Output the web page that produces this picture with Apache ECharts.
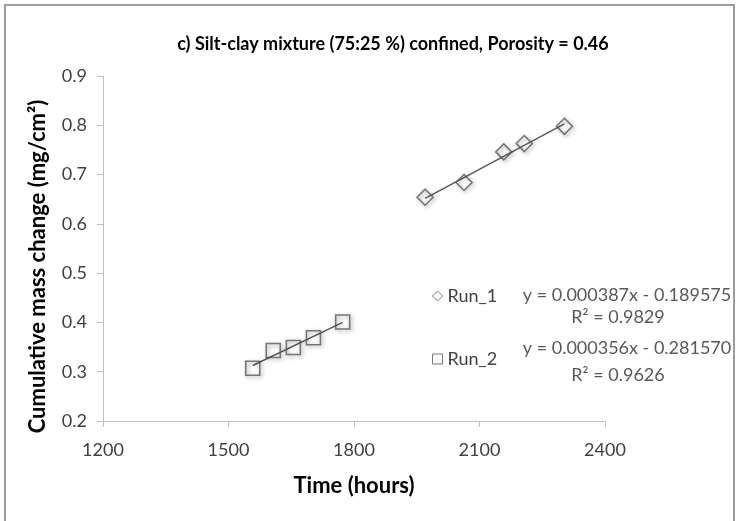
<!DOCTYPE html>
<html>
<head>
<meta charset="utf-8">
<script src="https://cdn.jsdelivr.net/npm/echarts@6/dist/echarts.min.js"></script>
<style>
  html, body { margin: 0; padding: 0; background: #ffffff; }
  #chart { width: 738px; height: 521px; }
</style>
</head>
<body>
<div id="chart"></div>
<script>
// Time (hours) and cumulative mass change (mg/cm²) for each run
const run1Time = [1970, 2063, 2158, 2207, 2303];
const run1Mass = [0.654, 0.684, 0.746, 0.763, 0.798];
const run2Time = [1558, 1607, 1655, 1703, 1773];
const run2Mass = [0.307, 0.343, 0.349, 0.369, 0.401];

const xTicks = [1200, 1500, 1800, 2100, 2400];
const yTicks = [0.2, 0.3, 0.4, 0.5, 0.6, 0.7, 0.8, 0.9];

const run1Equation = 'y = 0.000387x - 0.189575';
const run1R2 = 'R² = 0.9829';
const run2Equation = 'y = 0.000356x - 0.281570';
const run2R2 = 'R² = 0.9626';

const FONT = "Lato, 'Liberation Sans', sans-serif";

// Least-squares line through a run's points, spanning its first to last time
function trend(xs, ys) {
  const n = xs.length;
  const mx = xs.reduce((a, b) => a + b, 0) / n;
  const my = ys.reduce((a, b) => a + b, 0) / n;
  let sxy = 0, sxx = 0;
  for (let i = 0; i < n; i++) {
    sxy += (xs[i] - mx) * (ys[i] - my);
    sxx += (xs[i] - mx) * (xs[i] - mx);
  }
  const m = sxy / sxx;
  const b = my - m * mx;
  const x0 = Math.min(...xs), x1 = Math.max(...xs);
  return [[x0, m * x0 + b], [x1, m * x1 + b]];
}

const pts = (xs, ys) => xs.map((x, i) => [x, ys[i]]);

const markerStyle = {
  color: 'rgba(255,255,255,0)',
  borderColor: '#595959',
  borderWidth: 1.6,
  shadowColor: 'rgba(0,0,0,0.45)',
  shadowBlur: 4,
  shadowOffsetX: 1.5,
  shadowOffsetY: 1.5
};

const chart = echarts.init(document.getElementById('chart'), null, { renderer: 'canvas' });

chart.setOption({
  backgroundColor: '#ffffff',
  animation: false,
  title: {
    text: 'c) Silt-clay mixture (75:25 %) confined, Porosity = 0.46',
    left: 388,
    textAlign: 'center',
    top: 30,
    textStyle: { fontFamily: FONT, fontWeight: 'bold', fontSize: 18, color: '#000000' }
  },
  grid: { left: 103, right: 133, top: 76, bottom: 100 },
  legend: {
    orient: 'vertical',
    left: 427,
    top: 282,
    itemGap: 45,
    itemWidth: 10,
    itemHeight: 10,
    textStyle: { fontFamily: FONT, fontSize: 18, color: '#404040' },
    data: [
      { name: 'Run_1', icon: 'diamond', itemStyle: { color: '#ffffff', borderColor: '#595959', borderWidth: 1, shadowBlur: 0 } },
      { name: 'Run_2', icon: 'rect', itemStyle: { color: '#ffffff', borderColor: '#595959', borderWidth: 1, shadowBlur: 0 } }
    ]
  },
  xAxis: {
    type: 'value',
    min: xTicks[0],
    max: xTicks[xTicks.length - 1],
    interval: 300,
    name: 'Time (hours)',
    nameLocation: 'middle',
    nameGap: 54,
    nameTextStyle: { fontFamily: FONT, fontWeight: 'bold', fontSize: 22, color: '#000000' },
    axisLine: { lineStyle: { color: '#bfbfbf', width: 1 } },
    axisTick: { show: true, length: 6, lineStyle: { color: '#bfbfbf' } },
    axisLabel: { margin: 20, fontFamily: FONT, fontSize: 18, color: '#404040', formatter: v => String(v) },
    splitLine: { show: false }
  },
  yAxis: {
    type: 'value',
    min: yTicks[0],
    max: yTicks[yTicks.length - 1],
    interval: 0.1,
    name: 'Cumulative mass change (mg/cm²)',
    nameLocation: 'middle',
    nameGap: 54,
    nameRotate: 90,
    nameTextStyle: { fontFamily: FONT, fontWeight: 'bold', fontSize: 22, color: '#000000', padding: [0, 36, 0, 0] },
    axisLine: { show: true, lineStyle: { color: '#bfbfbf', width: 1 } },
    axisTick: { show: true, length: 6, lineStyle: { color: '#bfbfbf' } },
    axisLabel: { margin: 16, fontFamily: FONT, fontSize: 18, color: '#404040', formatter: v => v.toFixed(1) },
    splitLine: { show: false }
  },
  series: [
    {
      name: 'Run_1 trend',
      type: 'line',
      data: trend(run1Time, run1Mass),
      symbol: 'none',
      lineStyle: { color: '#595959', width: 1.5 },
      z: 1
    },
    {
      name: 'Run_2 trend',
      type: 'line',
      data: trend(run2Time, run2Mass),
      symbol: 'none',
      lineStyle: { color: '#595959', width: 1.5 },
      z: 1
    },
    {
      name: 'Run_1',
      type: 'scatter',
      data: pts(run1Time, run1Mass),
      symbol: 'diamond',
      symbolSize: 16,
      itemStyle: markerStyle,
      z: 2
    },
    {
      name: 'Run_2',
      type: 'scatter',
      data: pts(run2Time, run2Mass),
      symbol: 'rect',
      symbolSize: 14,
      itemStyle: markerStyle,
      z: 2
    }
  ],
  graphic: [
    {
      type: 'rect',
      shape: { x: 5, y: 5, width: 729, height: 540 },
      style: { fill: 'none', stroke: '#9c9c9c', lineWidth: 2 },
      silent: true
    },
    {
      type: 'text', x: 627, y: 295,
      style: { text: run1Equation, fontFamily: FONT, fontSize: 18, fill: '#595959', align: 'center', verticalAlign: 'middle' }
    },
    {
      type: 'text', x: 618, y: 317,
      style: { text: run1R2, fontFamily: FONT, fontSize: 18, fill: '#595959', align: 'center', verticalAlign: 'middle' }
    },
    {
      type: 'text', x: 627, y: 348,
      style: { text: run2Equation, fontFamily: FONT, fontSize: 18, fill: '#595959', align: 'center', verticalAlign: 'middle' }
    },
    {
      type: 'text', x: 618, y: 375,
      style: { text: run2R2, fontFamily: FONT, fontSize: 18, fill: '#595959', align: 'center', verticalAlign: 'middle' }
    }
  ]
});
</script>
</body>
</html>
